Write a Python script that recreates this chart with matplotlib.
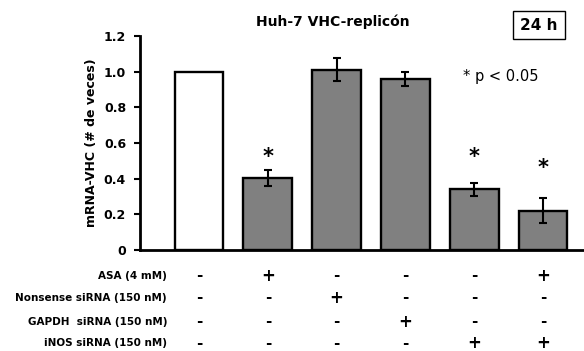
import matplotlib
matplotlib.use("Agg")
import matplotlib.pyplot as plt
from matplotlib.transforms import blended_transform_factory

plt.rcParams['font.family'] = ['DejaVu Sans']

values = [1.0, 0.405, 1.01, 0.96, 0.34, 0.22]
errors = [0.0, 0.045, 0.065, 0.04, 0.035, 0.07]
colors = ['white', '#808080', '#808080', '#808080', '#808080', '#808080']
significant = [False, True, False, False, True, True]
star_y = [0, 0.52, 0, 0, 0.52, 0.46]
row_labels = ['ASA (4 mM)', 'Nonsense siRNA (150 nM)', 'GAPDH  siRNA (150 nM)', 'iNOS siRNA (150 nM)']
conditions = [
    ['-', '+', '-', '-', '-', '+'],
    ['-', '-', '+', '-', '-', '-'],
    ['-', '-', '-', '+', '-', '-'],
    ['-', '-', '-', '-', '+', '+'],
]
yticks = [0, 0.2, 0.4, 0.6, 0.8, 1.0, 1.2]
ytick_labels = ['0', '0.2', '0.4', '0.6', '0.8', '1.0', '1.2']

fig = plt.figure(figsize=(5.84, 3.51), dpi=100)
ax = fig.add_axes([140/584, (351-250)/351, 1 - 140/584, 214/351])

x = list(range(len(values)))
ax.bar(x, values, width=0.71, color=colors, edgecolor='black', linewidth=1.7, zorder=2)
for xi, v, e in zip(x, values, errors):
    if e > 0:
        ax.errorbar(xi, v, yerr=e, fmt='none', ecolor='black', elinewidth=1.5,
                    capsize=3, capthick=1.5, zorder=3)
for xi, s, sy in zip(x, significant, star_y):
    if s:
        ax.text(xi, sy, '*', ha='center', va='center', fontsize=15, fontweight='bold')

ax.set_xlim(-0.858, 5.596)
ax.set_ylim(0, 1.2)
ax.set_yticks(yticks)
ax.set_yticklabels(ytick_labels, fontsize=9, fontweight='bold')
ax.set_xticks([])
ax.tick_params(axis='y', direction='out', length=4, width=1.5, pad=6)
for s in ['top', 'right']:
    ax.spines[s].set_visible(False)
ax.spines['left'].set_linewidth(2)
ax.spines['bottom'].set_linewidth(2)
ax.set_ylabel('mRNA-VHC (# de veces)', fontsize=9, fontweight='bold', labelpad=4)

trans = blended_transform_factory(ax.transData, ax.transAxes)
row_y = [-0.121, -0.224, -0.336, -0.435]
for ry, lab, cond in zip(row_y, row_labels, conditions):
    ax.text(-0.465, ry, lab, transform=trans, ha='right', va='center',
            fontsize=7.5, fontweight='bold', clip_on=False)
    for xi, c in zip(x, cond):
        ax.text(xi, ry, c, transform=trans, ha='center', va='center',
                fontsize=12 if c == '+' else 11, fontweight='bold', clip_on=False)

fig.text(333/584, 1 - 22/351, 'Huh-7 VHC-replicón', ha='center', va='center',
         fontsize=10, fontweight='bold')
fig.text(539/584, 1 - 25/351, '24 h', ha='center', va='center', fontsize=11,
         fontweight='bold',
         bbox=dict(boxstyle='square,pad=0.45', facecolor='white', edgecolor='black', linewidth=1))
fig.text(501/584, 1 - 77/351, '* p < 0.05', ha='center', va='center', fontsize=10.5)

fig.savefig('out.png', dpi=100)
